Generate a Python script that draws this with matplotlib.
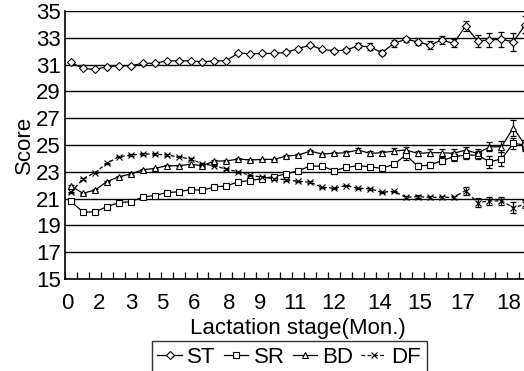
import matplotlib
matplotlib.use("Agg")
import matplotlib.pyplot as plt

plt.rcParams['font.family'] = ['Liberation Sans', 'DejaVu Sans']

# puntajes por etapa de lactancia (un punto cada ~medio mes)
st = [31.17, 30.72, 30.65, 30.84, 30.92, 30.92, 31.10, 31.10, 31.29, 31.29,
      31.29, 31.22, 31.29, 31.29, 31.89, 31.80, 31.84, 31.84, 31.92, 32.20,
      32.46, 32.14, 32.04, 32.09, 32.41, 32.34, 31.89, 32.59, 32.90, 32.71,
      32.46, 32.84, 32.59, 33.88, 32.78, 32.84, 32.90, 32.71, 34.00]
st_err = [0.05] * 20 + [0.1, 0.1, 0.1, 0.15, 0.2, 0.25, 0.2, 0.25, 0.2, 0.25,
                        0.3, 0.3, 0.3, 0.35, 0.45, 0.5, 0.55, 0.65, 0.6]

sr = [20.80, 20.00, 20.00, 20.40, 20.70, 20.77, 21.12, 21.23, 21.45, 21.51,
      21.68, 21.62, 21.87, 21.95, 22.25, 22.35, 22.50, 22.65, 22.85, 23.08,
      23.43, 23.43, 23.08, 23.33, 23.46, 23.38, 23.26, 23.56, 24.25, 23.43,
      23.50, 23.83, 24.13, 24.25, 24.25, 23.75, 23.96, 25.13, 25.00]
sr_err = [0.05] * 26 + [0.1, 0.15, 0.4, 0.2, 0.2, 0.25, 0.35, 0.3, 0.3,
                        0.45, 0.5, 0.4, 0.4]

bd = [21.94, 21.40, 21.64, 22.26, 22.63, 22.84, 23.15, 23.26, 23.45, 23.46,
      23.56, 23.46, 23.81, 23.81, 23.96, 23.88, 23.93, 23.93, 24.18, 24.25,
      24.55, 24.33, 24.38, 24.43, 24.63, 24.38, 24.43, 24.55, 24.63, 24.38,
      24.43, 24.43, 24.38, 24.63, 24.38, 24.87, 24.87, 26.29, 24.95]
bd_err = [0.05] * 20 + [0.1, 0.1, 0.1, 0.15, 0.15, 0.15, 0.15, 0.2, 0.25, 0.2,
                        0.25, 0.25, 0.3, 0.25, 0.3, 0.35, 0.4, 0.6, 0.4]

df = [21.47, 22.46, 22.94, 23.63, 24.13, 24.25, 24.33, 24.33, 24.25, 24.13,
      23.95, 23.60, 23.45, 23.20, 23.00, 22.75, 22.60, 22.50, 22.40, 22.30,
      22.23, 21.85, 21.78, 21.98, 21.78, 21.73, 21.48, 21.55, 21.10, 21.15,
      21.10, 21.10, 21.10, 21.60, 20.70, 20.83, 20.83, 20.33, 20.58]
df_err = [0.05] * 28 + [0.1, 0.1, 0.1, 0.1, 0.1, 0.3, 0.35, 0.3, 0.3, 0.4, 0.3]

mes_labels = ['0', '2', '3', '5', '6', '8', '9', '11', '12', '14', '15', '17', '18']

x = list(range(len(st)))

fig = plt.figure(figsize=(5.24, 3.71), dpi=100)
ax = fig.add_axes([0.124, 0.248, 0.89, 0.722])

series = [
    (st, st_err, 'D', 4.0, '-', 'ST'),
    (sr, sr_err, 's', 5.0, '-', 'SR'),
    (bd, bd_err, '^', 5.0, '-', 'BD'),
    (df, df_err, 'x', 5.0, (0, (3, 2)), 'DF'),
]
for vals, errs, mk, ms, ls, nombre in series:
    ax.errorbar(x, vals, yerr=errs, fmt='none', ecolor='black',
                elinewidth=0.9, capsize=2.5, capthick=0.9, zorder=3)
    ax.plot(x, vals, linestyle=ls, color='black', linewidth=0.9,
            marker=mk, markersize=ms, markerfacecolor='white',
            markeredgecolor='black', markeredgewidth=0.8, label=nombre,
            zorder=4)

ax.set_ylim(15, 35)
ax.set_yticks(range(15, 36, 2))
ax.set_xlim(-0.5, 38.5)
ax.yaxis.grid(True, color='black', linewidth=1.0)
ax.set_axisbelow(True)

# marcas entre categorias, hacia adentro
ax.set_xticks([i + 0.5 for i in range(-1, 39)], minor=True)
ax.set_xticks([-0.34, 2.35, 5.03, 7.63, 10.3, 13.25, 15.8, 18.7, 22.0, 25.8,
               29.2, 32.8, 36.6])
ax.set_xticklabels(mes_labels)
ax.tick_params(axis='x', which='major', length=0, labelsize=16, pad=10)
ax.tick_params(axis='x', which='minor', direction='in', length=5, width=0.9)
ax.tick_params(axis='y', length=0, labelsize=16, pad=3)

for lado in ['top', 'right']:
    ax.spines[lado].set_visible(False)
ax.spines['left'].set_linewidth(1.2)
ax.spines['bottom'].set_linewidth(1.2)

ax.set_ylabel('Score', fontsize=16, labelpad=1)
ax.set_xlabel('Lactation stage(Mon.)', fontsize=16, labelpad=3)

leg = fig.legend(loc='upper center', bbox_to_anchor=(0.552, 0.08), ncol=4,
                 fontsize=16, frameon=True, fancybox=False, edgecolor='black',
                 handlelength=1.1, handletextpad=0.25, columnspacing=0.35,
                 borderpad=0.25, borderaxespad=0)
leg.get_frame().set_linewidth(1.0)

fig.savefig('out.png', dpi=100)
